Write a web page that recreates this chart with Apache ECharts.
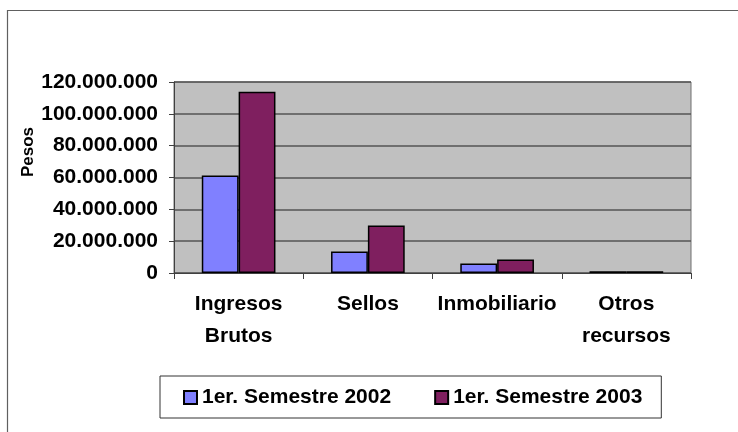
<!DOCTYPE html>
<html>
<head>
<meta charset="utf-8">
<script src="https://cdn.jsdelivr.net/npm/echarts@6/dist/echarts.min.js"></script>
<style>
html,body{margin:0;padding:0;background:#fff;}
#chart{width:738px;height:432px;}
</style>
</head>
<body>
<div id="chart"></div>
<script>
const categories = ['Ingresos\nBrutos', 'Sellos', 'Inmobiliario', 'Otros\nrecursos'];
const seriesNames = ['1er. Semestre 2002', '1er. Semestre 2003'];
const values2002 = [61200000, 13500000, 6000000, 1100000];
const values2003 = [113900000, 29900000, 8500000, 1100000];
const yTicks = [0, 20000000, 40000000, 60000000, 80000000, 100000000, 120000000];
const axisTitle = 'Pesos';

const FONT = '"Liberation Sans", Arial, sans-serif';
function fmt(v) { return String(v).replace(/\B(?=(\d{3})+(?!\d))/g, '.'); }

const chart = echarts.init(document.getElementById('chart'), null, {renderer: 'canvas'});
chart.setOption({
  animation: false,
  backgroundColor: '#ffffff',
  graphic: [{
    type: 'rect', z: -10, silent: true,
    shape: {x: 7.5, y: 10.5, width: 800, height: 500},
    style: {fill: 'none', stroke: '#606060', lineWidth: 1.2}
  }],
  grid: {
    left: 174, right: 47, top: 82, bottom: 159,
    show: true, backgroundColor: '#c0c0c0', borderColor: '#707070', borderWidth: 1
  },
  legend: {
    left: 160, top: 376,
    padding: [11, 19, 10, 23],
    itemGap: 43, itemWidth: 13, itemHeight: 13,
    icon: 'rect',
    borderColor: '#333', borderWidth: 1,
    data: seriesNames,
    textStyle: {fontFamily: FONT, fontWeight: 'bold', fontSize: 21, color: '#000'}
  },
  xAxis: {
    type: 'category', data: categories,
    axisLine: {lineStyle: {color: '#404040', width: 1}},
    axisTick: {show: true, length: 6, lineStyle: {color: '#404040'}},
    axisLabel: {margin: 15, fontFamily: FONT, fontWeight: 'bold', fontSize: 21, lineHeight: 32, color: '#000', interval: 0}
  },
  yAxis: {
    type: 'value', min: 0, max: yTicks[yTicks.length - 1], interval: yTicks[1] - yTicks[0],
    name: axisTitle, nameLocation: 'middle', nameRotate: 90, nameGap: 137, nameMoveOverlap: false,
    nameTextStyle: {fontFamily: FONT, fontWeight: 'bold', fontSize: 17, color: '#000', padding: [0, 0, 0, 51]},
    axisLine: {show: true, lineStyle: {color: '#404040', width: 1}},
    axisTick: {show: true, length: 5, lineStyle: {color: '#404040'}},
    splitLine: {show: true, lineStyle: {color: '#555555', width: 1.5}},
    axisLabel: {margin: 16, fontFamily: FONT, fontWeight: 'bold', fontSize: 21, color: '#000', formatter: fmt}
  },
  series: [
    {name: seriesNames[0], type: 'bar', data: values2002, barGap: '0%', barCategoryGap: '43%',
     itemStyle: {color: '#8080ff', borderColor: '#000', borderWidth: 1.5}},
    {name: seriesNames[1], type: 'bar', data: values2003, barGap: '0%', barCategoryGap: '43%',
     itemStyle: {color: '#7f1f5f', borderColor: '#000', borderWidth: 1.5}}
  ]
});
</script>
</body>
</html>
